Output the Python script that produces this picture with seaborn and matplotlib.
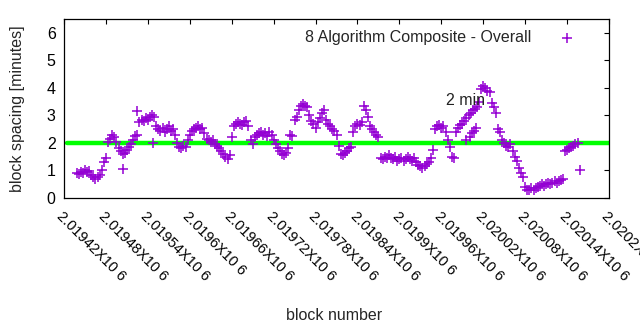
import numpy as np
import pandas as pd
import matplotlib
matplotlib.use("Agg")
import matplotlib.pyplot as plt
import seaborn as sns
from matplotlib.ticker import FixedLocator, FixedFormatter

# ---- data ----
first_block = 2019438
block_step = 3
spacing_minutes = [
    0.92, 0.88, 0.95, 0.90, 1.00, 0.93, 0.97, 0.85, 0.75, 0.70,
    0.78, 0.85, 1.00, 1.30, 1.45, 2.05, 2.15, 2.30, 2.20, 2.05,
    1.80, 1.70, 1.60, 1.65, 1.75, 1.85, 1.95, 2.10, 2.25, 2.30,
    2.75, 2.85, 2.80, 2.90, 2.85, 2.95, 3.00, 2.95, 2.60, 2.50,
    2.45, 2.55, 2.40, 2.50, 2.60, 2.45, 2.50, 2.30, 2.00, 1.85,
    1.80, 1.90, 1.85, 2.10, 2.30, 2.45, 2.50, 2.55, 2.60, 2.50,
    2.55, 2.35, 2.15, 2.10, 2.05, 2.10, 1.95, 1.90, 1.80, 1.70,
    1.60, 1.50, 1.40, 1.55, 2.20, 2.60, 2.70, 2.75, 2.70, 2.65,
    2.75, 2.80, 2.60, 2.10, 1.95, 2.20, 2.30, 2.35, 2.40, 2.30,
    2.35, 2.25, 2.40, 2.30, 2.10, 1.95, 1.80, 1.70, 1.60, 1.55,
    1.65, 1.80, 2.30, 2.25, 2.85, 2.95, 3.20, 3.35, 3.40, 3.35,
    3.30, 3.00, 2.80, 2.70, 2.55, 2.75, 2.90, 3.10, 3.20, 2.85,
    2.70, 2.60, 2.50, 2.45, 2.30, 1.90, 1.60, 1.55, 1.65, 1.70,
    1.80, 1.85, 2.40, 2.60, 2.70, 2.65, 2.75, 3.35, 3.20, 2.95,
    2.60, 2.50, 2.40, 2.30, 2.20, 1.45, 1.40, 1.50, 1.45, 1.55,
    1.45, 1.40, 1.50, 1.35, 1.40, 1.45, 1.35, 1.40, 1.50, 1.40,
    1.35, 1.45, 1.30, 1.20, 1.15, 1.10, 1.15, 1.25, 1.30, 1.45,
    1.75, 2.50, 2.60, 2.65, 2.55, 2.60, 2.40, 2.10, 1.85, 1.50,
    1.45, 2.40, 2.55, 2.65, 2.70, 2.80, 2.90, 3.00, 3.10, 3.20,
    3.25, 3.30, 3.50, 3.95, 4.05, 4.00, 3.90, 3.85, 3.45, 3.30,
    3.10, 2.50, 2.40, 2.10, 2.00, 1.90, 1.85, 1.95, 1.70, 1.50,
    1.35, 1.10, 0.90, 0.75, 0.40, 0.30, 0.30, 0.35, 0.30, 0.35,
    0.40, 0.45, 0.50, 0.45, 0.50, 0.55, 0.50, 0.55, 0.60, 0.55,
    0.60, 0.65, 0.70, 1.70, 1.75, 1.80, 1.85, 1.90, 1.95, 2.00,
]
extra_blocks = [2019504, 2019525, 2019548, 2019995, 2020001, 2020004, 2020007, 2020010, 2020159]
extra_values = [1.05, 3.15, 2.00, 2.10, 2.20, 2.35, 2.45, 2.55, 1.00]

target_minutes = 2
target_start = 2019424
x_ticks = [2019420 + 60 * k for k in range(14)]
x_tick_labels = [f"{t / 1e6:g}X10 6" for t in x_ticks]
y_ticks = [0, 1, 2, 3, 4, 5, 6]
series_label = "8 Algorithm Composite - Overall"
target_label = "2 min"

# ---- build table ----
blocks = first_block + block_step * np.arange(len(spacing_minutes))
df = pd.DataFrame({
    "block": np.concatenate([blocks, extra_blocks]),
    "spacing": np.concatenate([spacing_minutes, extra_values]),
})

sns.set_theme(style="white")
plt.rcParams["font.family"] = ["Liberation Sans", "DejaVu Sans"]
FS = 11.5
plt.rcParams["font.size"] = FS

fig = plt.figure(figsize=(6.4, 3.3), dpi=100)
ax = fig.add_axes([64 / 640, 1 - 198 / 330, (609 - 64) / 640, (198 - 19) / 330])

x0, x1 = 2019420, 2020200
ax.plot([target_start, x1], [target_minutes, target_minutes], color="#00ff00", lw=3.2, zorder=1)

sns.scatterplot(data=df, x="block", y="spacing", marker="+", color="#9400d3",
                s=50, linewidth=1.1, ax=ax, label=series_label, zorder=2)

ax.text(2019967, 3.53, target_label, ha="left", va="center", fontsize=FS, color="#222222")

ax.set_xlim(x0, x1)
ax.set_ylim(0, 6.5)
ax.xaxis.set_major_locator(FixedLocator(x_ticks))
ax.xaxis.set_major_formatter(FixedFormatter(x_tick_labels))
ax.set_yticks(y_ticks)

ax.tick_params(axis="both", direction="in", length=3.5, width=0.8, colors="black",
               top=True, right=True, labelsize=FS)
ax.tick_params(axis="x", pad=8, labelsize=10.5)
ax.tick_params(axis="y", pad=6)
for lab in ax.get_xticklabels():
    lab.set_rotation(-45)
    lab.set_ha("left")
    lab.set_va("top")
    lab.set_rotation_mode("anchor")
for sp in ax.spines.values():
    sp.set_color("black")
    sp.set_linewidth(0.9)

ax.set_xlabel("block number", fontsize=FS)
ax.set_ylabel("block spacing [minutes]", fontsize=FS)
ax.xaxis.set_label_coords(0.495, -0.615)
ax.yaxis.set_label_coords(-0.072, 0.5)

ax.legend(loc="upper right", markerfirst=False, frameon=False, fontsize=FS,
          handletextpad=1.2, borderaxespad=0.3, bbox_to_anchor=(0.972, 1.0))

fig.savefig("out.png", dpi=100)
